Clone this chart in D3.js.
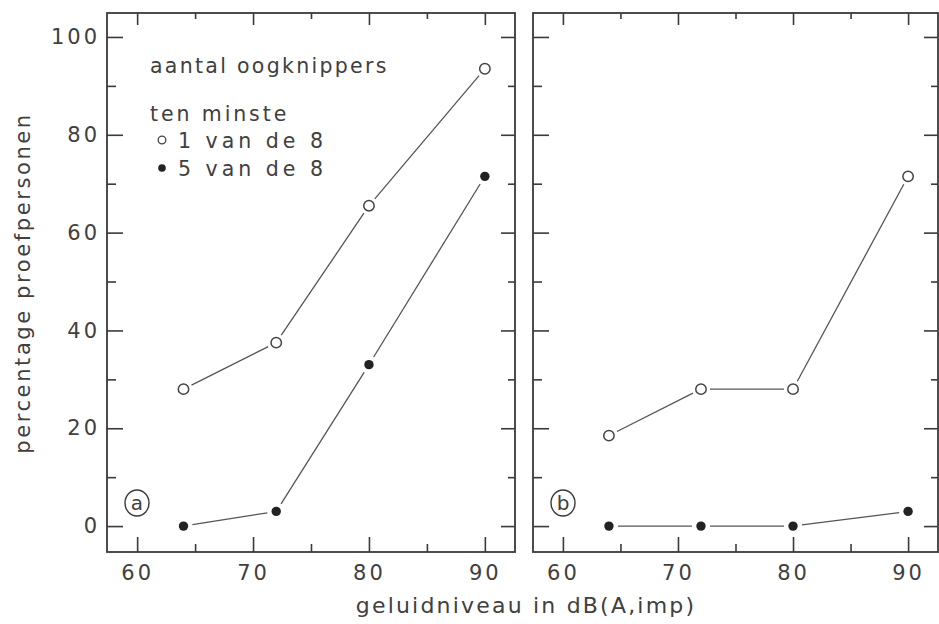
<!DOCTYPE html>
<html>
<head>
<meta charset="utf-8">
<script src="https://cdn.jsdelivr.net/npm/d3@7"></script>
<style>
  html, body { margin: 0; padding: 0; background: #fff; }
  svg { display: block; }
  text { font-family: "DejaVu Sans", sans-serif; fill: #404040; }
</style>
</head>
<body>
<svg id="chart" width="939" height="624"></svg>
<script>
// Sound level (dB(A,imp)) at which the eye blinks were counted
const soundLevels = [64, 72, 80, 90];

// Percentage of test subjects blinking at least 1 of 8 / at least 5 of 8 times
const panelA_atLeast1 = [28, 37.5, 65.5, 93.5];
const panelA_atLeast5 = [0, 3, 33, 71.5];
const panelB_atLeast1 = [18.5, 28, 28, 71.5];
const panelB_atLeast5 = [0, 0, 0, 3];

const xMajorTicks = [60, 70, 80, 90];
const xMinorTicks = [65, 75, 85];
const yMajorTicks = [0, 20, 40, 60, 80, 100];
const yMinorTicks = [10, 30, 50, 70, 90];

const panelLabels = ["a", "b"];
const legendTitle = "aantal oogknippers";
const legendSubtitle = "ten minste";
const legendItems = ["1 van de 8", "5 van de 8"];
const yTitle = "percentage proefpersonen";
const xTitle = "geluidniveau in dB(A,imp)";

const ink = "#3a3a3a";
const svg = d3.select("#chart");

const plotTop = 13, plotBottom = 552;
const y = d3.scaleLinear().domain([-5.3, 104.9]).range([plotBottom, plotTop]);

const panels = [
  { left: 107, right: 515, open: panelA_atLeast1, filled: panelA_atLeast5, label: panelLabels[0], yLabels: true },
  { left: 533, right: 938, open: panelB_atLeast1, filled: panelB_atLeast5, label: panelLabels[1], yLabels: false }
];

panels.forEach(p => {
  const x = d3.scaleLinear().domain([57.4, 92.6]).range([p.left, p.right]);
  const g = svg.append("g");

  // axes: ticks point inward on all four sides
  const axes = [
    [d3.axisBottom(x).tickValues(xMajorTicks).tickSize(-15).tickPadding(13), `translate(0,${plotBottom})`],
    [d3.axisBottom(x).tickValues(xMinorTicks).tickSize(-8).tickFormat(""), `translate(0,${plotBottom})`],
    [d3.axisTop(x).tickValues(xMajorTicks).tickSize(-12).tickFormat(""), `translate(0,${plotTop})`],
    [d3.axisTop(x).tickValues(xMinorTicks).tickSize(-6).tickFormat(""), `translate(0,${plotTop})`],
    [d3.axisLeft(y).tickValues(yMajorTicks).tickSize(-16).tickPadding(7).tickFormat(p.yLabels ? d3.format("d") : ""), `translate(${p.left},0)`],
    [d3.axisLeft(y).tickValues(yMinorTicks).tickSize(-9).tickFormat(""), `translate(${p.left},0)`],
    [d3.axisRight(y).tickValues(yMajorTicks).tickSize(-14).tickFormat(""), `translate(${p.right},0)`],
    [d3.axisRight(y).tickValues(yMinorTicks).tickSize(-7).tickFormat(""), `translate(${p.right},0)`]
  ];
  axes.forEach(([axis, tr]) => {
    const a = g.append("g").attr("transform", tr).call(axis);
    a.select(".domain").remove();
    a.selectAll(".tick line").attr("stroke", ink).attr("stroke-width", 1.6);
    a.selectAll(".tick text")
      .style("font-family", '"DejaVu Sans", sans-serif')
      .style("letter-spacing", "3px")
      .attr("font-size", 21).attr("fill", "#444");
  });

  // frame
  g.append("rect")
    .attr("x", p.left).attr("y", plotTop)
    .attr("width", p.right - p.left).attr("height", plotBottom - plotTop)
    .attr("fill", "none").attr("stroke", ink).attr("stroke-width", 1.8);

  // connecting segments, stopping short of the markers
  const gap = 9;
  function drawSeries(values) {
    const pts = soundLevels.map((v, i) => [x(v), y(values[i])]);
    for (let i = 0; i < pts.length - 1; i++) {
      const [x0, y0] = pts[i], [x1, y1] = pts[i + 1];
      const len = Math.hypot(x1 - x0, y1 - y0);
      const ux = (x1 - x0) / len, uy = (y1 - y0) / len;
      g.append("line")
        .attr("x1", x0 + ux * gap).attr("y1", y0 + uy * gap)
        .attr("x2", x1 - ux * gap).attr("y2", y1 - uy * gap)
        .attr("stroke", "#555").attr("stroke-width", 1.3);
    }
  }
  drawSeries(p.open);
  drawSeries(p.filled);

  g.selectAll(".open").data(p.open).join("circle")
    .attr("cx", (d, i) => x(soundLevels[i])).attr("cy", d => y(d))
    .attr("r", 5.2).attr("fill", "#fff").attr("stroke", "#444").attr("stroke-width", 1.5);
  g.selectAll(".filled").data(p.filled).join("circle")
    .attr("cx", (d, i) => x(soundLevels[i])).attr("cy", d => y(d))
    .attr("r", 4.7).attr("fill", "#222");

  // circled panel letter
  const cx = p.left + 30, cy = 503;
  g.append("ellipse").attr("cx", cx).attr("cy", cy).attr("rx", 12).attr("ry", 13)
    .attr("fill", "none").attr("stroke", ink).attr("stroke-width", 1.4);
  g.append("text").attr("x", cx).attr("y", cy + 7).attr("text-anchor", "middle")
    .attr("font-size", 20).text(p.label);
});

// legend inside panel a
const lg = svg.append("g");
lg.append("text").attr("x", 150).attr("y", 73).attr("font-size", 20.5)
  .style("letter-spacing", "2.3px").text(legendTitle);
lg.append("text").attr("x", 150).attr("y", 121).attr("font-size", 20.5)
  .style("letter-spacing", "2.9px").text(legendSubtitle);
legendItems.forEach((t, i) => {
  const ly = 148 + i * 28;
  if (i === 0) {
    lg.append("circle").attr("cx", 162).attr("cy", ly - 8).attr("r", 3.8)
      .attr("fill", "#fff").attr("stroke", "#444").attr("stroke-width", 1.3);
  } else {
    lg.append("circle").attr("cx", 162).attr("cy", ly - 8).attr("r", 3.8).attr("fill", "#222");
  }
  lg.append("text").attr("x", 178).attr("y", ly).attr("font-size", 20.5)
    .style("letter-spacing", "4px").text(t);
});

// axis titles
svg.append("text")
  .attr("transform", "translate(30,283) rotate(-90)")
  .attr("text-anchor", "middle").attr("font-size", 21)
  .style("letter-spacing", "2.6px").text(yTitle);
svg.append("text")
  .attr("x", 526).attr("y", 613)
  .attr("text-anchor", "middle").attr("font-size", 22)
  .style("letter-spacing", "2.2px").text(xTitle);
</script>
</body>
</html>
